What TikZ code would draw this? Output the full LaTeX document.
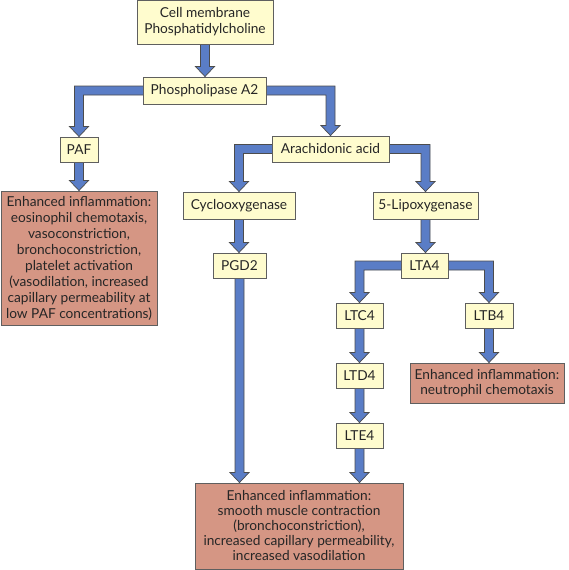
\documentclass[tikz,border=0pt]{standalone}
\usepackage{fontspec}
\setmainfont{Lato}
\usetikzlibrary{backgrounds,calc}
\definecolor{boxyellow}{RGB}{255,252,206}
\definecolor{boxred}{RGB}{213,150,132}
\definecolor{arrblue}{RGB}{90,125,198}
\definecolor{edgegray}{RGB}{95,95,95}
\tikzset{
  ybox/.style={draw=edgegray, line width=0.9pt, fill=boxyellow, inner sep=0pt,
    align=center, font=\fontsize{13.7}{16}\selectfont, text=black!85},
  rbox/.style={ybox, fill=boxred},
  tight/.style={font=\fontsize{13.7}{15}\selectfont},
  flow/.style={fill=arrblue, draw=edgegray!80!black, line width=0.7pt, line join=miter},
}
% straight downward arrow: #1 start, #2 tip (same x)
\newcommand{\downarr}[2]{%
  \path[flow] let \p1=(#1), \p2=(#2) in
    (\x1-4.5pt,\y1) -- (\x1-4.5pt,\y2+10pt) -- (\x1-9.5pt,\y2+10pt) -- (\x1,\y2)
    -- (\x1+9.5pt,\y2+10pt) -- (\x1+4.5pt,\y2+10pt) -- (\x1+4.5pt,\y1) -- cycle;}
% elbow arrow: horizontal from #1, then down to tip #2
\newcommand{\elbarr}[2]{%
  \path[flow] let \p1=(#1), \p2=(#2), \n1={sign(\x2-\x1)} in
    (\x1,\y1+4.5pt) -- (\x2+\n1*4.5pt,\y1+4.5pt) -- (\x2+\n1*4.5pt,\y2+10pt)
    -- (\x2+\n1*9.5pt,\y2+10pt) -- (\x2,\y2) -- (\x2-\n1*9.5pt,\y2+10pt)
    -- (\x2-\n1*4.5pt,\y2+10pt) -- (\x2-\n1*4.5pt,\y1-4.5pt) -- (\x1,\y1-4.5pt) -- cycle;}
\begin{document}
\begin{tikzpicture}[x=1pt,y=-1pt]
\useasboundingbox (0,0) rectangle (568,570);
\node[ybox, minimum width=136pt, minimum height=44pt] (cm) at (205,22) {Cell membrane\\Phosphatidylcholine};
\node[ybox, minimum width=123pt, minimum height=27pt] (pla) at (204.5,90.5) {Phospholipase A2};
\node[ybox, minimum width=38pt, minimum height=25pt] (paf) at (79,149.5) {PAF};
\node[ybox, minimum width=117pt, minimum height=26pt] (ara) at (330.5,149) {Arachidonic acid};
\node[ybox, minimum width=112pt, minimum height=27pt] (cox) at (239,205.5) {Cyclooxygenase};
\node[ybox, minimum width=105pt, minimum height=27pt] (lox) at (425.5,205.5) {5-Lipoxygenase};
\node[rbox, minimum width=156pt, minimum height=134pt] (redL) at (79,258) {Enhanced inflammation:\\eosinophil chemotaxis,\\vasoconstriction,\\bronchoconstriction,\\platelet activation\\(vasodilation, increased\\capillary permeability at\\low PAF concentrations)};
\node[ybox, minimum width=53pt, minimum height=25pt] (pgd) at (239.5,265.5) {PGD2};
\node[ybox, minimum width=47pt, minimum height=25pt] (lta) at (424.5,265.5) {LTA4};
\node[ybox, minimum width=47pt, minimum height=25pt] (ltc) at (359.5,315.5) {LTC4};
\node[ybox, minimum width=48pt, minimum height=25pt] (ltb) at (489,315.5) {LTB4};
\node[ybox, minimum width=47pt, minimum height=25pt] (ltd) at (359.5,375.5) {LTD4};
\node[rbox, tight, minimum width=154pt, minimum height=40pt] (redR) at (487,383) {Enhanced inflammation:\\neutrophil chemotaxis};
\node[ybox, minimum width=47pt, minimum height=25pt] (lte) at (359.5,435.5) {LTE4};
\node[rbox, tight, minimum width=208pt, minimum height=86pt] (bot) at (299,526) {Enhanced inflammation:\\smooth muscle contraction\\(bronchoconstriction),\\increased capillary permeability,\\increased vasodilation};
\begin{scope}[on background layer]
\downarr{cm.center}{cm.center |- pla.north}
\elbarr{pla.center}{paf.north}
\elbarr{pla.center}{ara.north}
\downarr{paf.center}{paf.center |- redL.north}
\elbarr{ara.center}{cox.north}
\elbarr{ara.center}{lox.north}
\downarr{cox.center}{cox.center |- pgd.north}
\downarr{lox.center}{lox.center |- lta.north}
\downarr{pgd.center}{pgd.center |- bot.north}
\elbarr{lta.center}{ltc.north}
\elbarr{lta.center}{ltb.north}
\downarr{ltc.center}{ltc.center |- ltd.north}
\downarr{ltd.center}{ltd.center |- lte.north}
\downarr{lte.center}{lte.center |- bot.north}
\downarr{ltb.center}{ltb.center |- redR.north}
\end{scope}
\end{tikzpicture}
\end{document}
